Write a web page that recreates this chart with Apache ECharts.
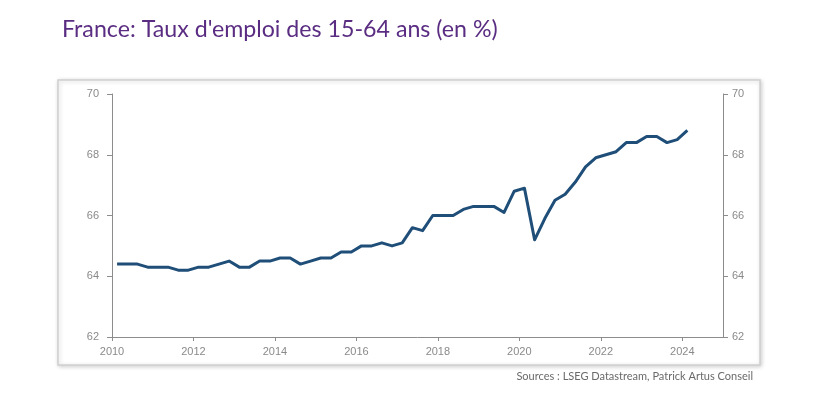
<!DOCTYPE html>
<html>
<head>
<meta charset="utf-8">
<script src="https://cdn.jsdelivr.net/npm/echarts@6/dist/echarts.min.js"></script>
<style>
	html, body { margin: 0; padding: 0; background: #fff; }
	#chart { width: 832px; height: 416px; }
</style>
</head>
<body>
<div id="chart"></div>
<script>
// trimestres 2010T1 .. 2024T1
var quarters = [];
for (var y = 2010; y <= 2024; y++) {
	for (var q = 1; q <= 4; q++) {
		if (y === 2024 && q > 1) break;
		quarters.push(y + 'T' + q);
	}
}
// taux d'emploi 15-64 ans (%)
var tauxEmploi = [
	64.4, 64.4, 64.4, 64.3,
	64.3, 64.3, 64.2, 64.2,
	64.3, 64.3, 64.4, 64.5,
	64.3, 64.3, 64.5, 64.5,
	64.6, 64.6, 64.4, 64.5,
	64.6, 64.6, 64.8, 64.8,
	65.0, 65.0, 65.1, 65.0,
	65.1, 65.6, 65.5, 66.0,
	66.0, 66.0, 66.2, 66.3,
	66.3, 66.3, 66.1, 66.8,
	66.9, 65.2, 65.9, 66.5,
	66.7, 67.1, 67.6, 67.9,
	68.0, 68.1, 68.4, 68.4,
	68.6, 68.6, 68.4, 68.5,
	68.8
];
var yearTicks = [2010, 2012, 2014, 2016, 2018, 2020, 2022, 2024];
var yTicks = [62, 64, 66, 68, 70];

$chart();

function $chart() {
	var myChart = echarts.init(document.getElementById('chart'));
	// position du trimestre au milieu de sa periode
	var seriesData = quarters.map(function(lbl, i) {
		var yr = parseInt(lbl.slice(0, 4), 10);
		var q = parseInt(lbl.slice(5), 10);
		return [yr + (q - 0.5) / 4, tauxEmploi[i]];
	});
	var axisGray = '#8c8c8c';
	var labelStyle = { color: '#8a8a8a', fontSize: 11, fontFamily: 'Liberation Sans, Arial, sans-serif' };
	var yAxisBase = {
		type: 'value',
		min: yTicks[0],
		max: yTicks[yTicks.length - 1],
		interval: 2,
		splitLine: { show: false },
		axisLine: { show: true, lineStyle: { color: axisGray, width: 1 } },
		axisTick: { show: true, length: 5, lineStyle: { color: axisGray } }
	};
	var option = {
		backgroundColor: '#fff',
		animation: false,
		title: {
			text: "France: Taux d'emploi des 15-64 ans (en %)",
			left: 57,
			top: 13,
			textStyle: { color: '#5a2d82', fontSize: 23.2, fontWeight: 'normal', fontFamily: 'Lato, sans-serif' }
		},
		graphic: [{
			type: 'rect',
			z: -10,
			shape: { x: 58, y: 80, width: 702, height: 285 },
			style: { fill: '#fff', stroke: '#cfcfcf', lineWidth: 1.5, shadowBlur: 4, shadowColor: 'rgba(0,0,0,0.18)', shadowOffsetX: 1, shadowOffsetY: 1 }
		}, {
			type: 'text',
			right: 79,
			top: 371,
			style: { text: 'Sources : LSEG Datastream, Patrick Artus Conseil', fill: '#6a6a6a', fontSize: 11, fontFamily: 'Lato, sans-serif' }
		}],
		grid: { left: 112, right: 109, top: 94, bottom: 79 },
		xAxis: {
			type: 'value',
			min: 2010,
			max: 2025,
			interval: 2,
			splitLine: { show: false },
			axisLine: { show: true, lineStyle: { color: axisGray } },
			axisTick: { show: true, length: 4, lineStyle: { color: axisGray } },
			axisLabel: {
				margin: 9,
				color: labelStyle.color,
				fontSize: labelStyle.fontSize,
				fontFamily: labelStyle.fontFamily,
				showMaxLabel: false,
				formatter: function(v) { return yearTicks.indexOf(v) >= 0 ? String(v) : ''; }
			}
		},
		yAxis: [
			Object.assign({}, yAxisBase, {
				position: 'left',
				axisLabel: { margin: 13, color: labelStyle.color, fontSize: labelStyle.fontSize, fontFamily: labelStyle.fontFamily }
			}),
			Object.assign({}, yAxisBase, {
				position: 'right',
				axisLabel: { margin: 9, color: labelStyle.color, fontSize: labelStyle.fontSize, fontFamily: labelStyle.fontFamily }
			})
		],
		series: [{
			name: "Taux d'emploi 15-64 ans",
			type: 'line',
			data: seriesData,
			showSymbol: false,
			symbol: 'none',
			lineStyle: { color: '#1f4e79', width: 3, join: 'round' }
		}]
	};
	myChart.setOption(option);
}
</script>
</body>
</html>
